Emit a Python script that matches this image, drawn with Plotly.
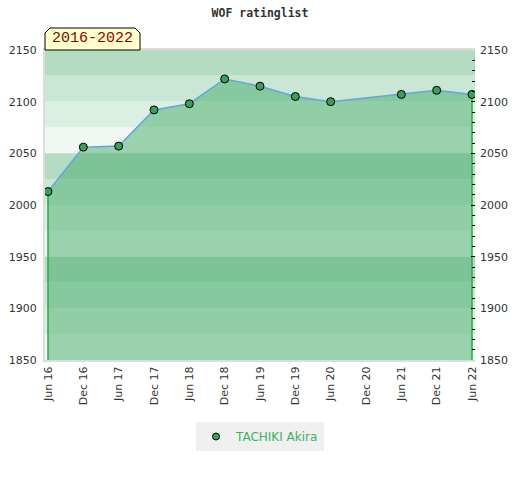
import plotly.graph_objects as go

# rating periods and WOF ratings (Dec 20 missing)
periods = ["Jun 16", "Dec 16", "Jun 17", "Dec 17", "Jun 18", "Dec 18", "Jun 19",
           "Dec 19", "Jun 20", "Dec 20", "Jun 21", "Dec 21", "Jun 22"]
ratings = [2013, 2056, 2057, 2092, 2098, 2122, 2115, 2105, 2100, None, 2107, 2111, 2107]
player = "TACHIKI Akira"
span_label = "2016-2022"

y_min, y_max = 1850, 2150
y_ticks = [1850, 1900, 1950, 2000, 2050, 2100, 2150]
band_step = 25
band_colors = ["#b4dcc2", "#c9e7d4", "#dcefe3", "#eff8f2"]  # from top of each 100 block

idx = list(range(len(periods)))
pts = [(i, r) for i, r in zip(idx, ratings) if r is not None]
px_ = [p[0] for p in pts]
py_ = [p[1] for p in pts]

fig = go.Figure()

# area under the line
fig.add_trace(go.Scatter(
    x=px_, y=py_, mode="lines", fill="tozeroy",
    fillcolor="rgba(62,170,101,0.48)", line=dict(width=0),
    showlegend=False, hoverinfo="skip"))

# green edges dropping to the baseline
for i, r in (pts[0], pts[-1]):
    fig.add_trace(go.Scatter(
        x=[i, i], y=[r, y_min], mode="lines",
        line=dict(color="#2aa84a", width=1.5),
        showlegend=False, hoverinfo="skip"))

# rating line
fig.add_trace(go.Scatter(
    x=px_, y=py_, mode="lines+markers",
    line=dict(color="#62a6de", width=1.5),
    marker=dict(size=8, color="#3a9e5c", line=dict(color="black", width=1)),
    showlegend=False))

# legend entry (marker only), also carries the right axis
fig.add_trace(go.Scatter(
    x=[None], y=[None], mode="markers", name=player, yaxis="y2",
    marker=dict(size=7, color="#3a9e5c", line=dict(color="black", width=1))))

# horizontal bands
shapes = []
k = 0
top = y_max
while top > y_min:
    shapes.append(dict(type="rect", xref="paper", yref="y", x0=0, x1=1,
                       y0=top - band_step, y1=top, layer="below",
                       fillcolor=band_colors[k % 4], line=dict(width=0)))
    top -= band_step
    k += 1

# label box with cut corners
shapes.append(dict(type="path", xref="paper", yref="paper",
                   xsizemode="pixel", ysizemode="pixel", xanchor=0, yanchor=1,
                   path="M0,0 L0,17 L5,22 L90,22 L95,17 L95,0 Z",
                   fillcolor="#ffffcc", line=dict(color="black", width=1)))

axis_font = dict(family="DejaVu Sans", size=11, color="#333333")

fig.update_layout(
    width=520, height=480,
    margin=dict(l=45, r=45, t=50, b=120),
    paper_bgcolor="white", plot_bgcolor="white",
    title=dict(text="<b>WOF ratinglist</b>", x=0.5, xanchor="center",
               y=1 - 13 / 480, yanchor="middle",
               font=dict(family="DejaVu Sans Mono", size=11.5, color="#333333")),
    shapes=shapes,
    annotations=[dict(text=span_label, xref="paper", yref="paper", x=0, y=1,
                      xanchor="left", yanchor="bottom", xshift=5, yshift=1,
                      showarrow=False,
                      font=dict(family="Liberation Mono", size=15, color="#8b0000"))],
    xaxis=dict(range=[-0.085, len(periods) - 1 + 0.085], tickvals=idx, ticktext=periods,
               tickangle=-90, tickfont=axis_font, showgrid=False, zeroline=False,
               showline=True, linecolor="#dddddd", linewidth=2, mirror=True, ticks="",
               automargin=False),
    yaxis=dict(range=[y_min, y_max], tickvals=y_ticks, tickfont=axis_font,
               showgrid=False, zeroline=False, showline=True, linecolor="#dddddd",
               linewidth=2, ticks="", ticklabelstandoff=4, automargin=False),
    yaxis2=dict(range=[y_min, y_max], tickvals=y_ticks, tickfont=axis_font,
                overlaying="y", side="right", showgrid=False, zeroline=False,
                showline=False, ticks="inside", ticklen=4, tickcolor="black",
                minor=dict(dtick=10, ticks="inside", ticklen=3, tickcolor="black"),
                ticklabelstandoff=4, automargin=False),
    legend=dict(orientation="h", x=0.5, xanchor="center", y=-0.2, yanchor="top",
                itemwidth=30, bgcolor="#f0f0f0",
                font=dict(family="DejaVu Sans", size=12, color="#3cb060")),
    hovermode=False,
)

fig.write_html("out.html", config={"displayModeBar": False},
               post_script="document.body.style.margin='0';")
